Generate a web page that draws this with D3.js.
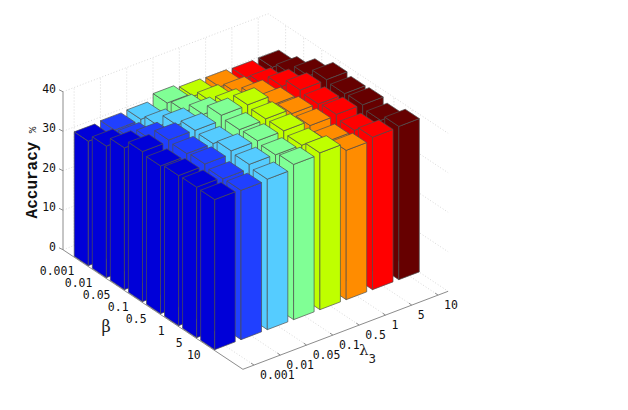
<!DOCTYPE html>
<html><head><meta charset="utf-8">
<script src="https://cdn.jsdelivr.net/npm/d3@7"></script>
<style>html,body{margin:0;background:#fff}svg{display:block}</style></head>
<body><div id="c"></div>
<script>
const betaLabels=["0.001","0.01","0.05","0.1","0.5","1","5","10"];
const lambdaLabels=["0.001","0.01","0.05","0.1","0.5","1","5","10"];
const zTicks=[0,10,20,30,40];
const colors=["#0000d8","#2040ff","#55ccff","#80ff95","#bfff00","#ff8c00","#ff0000","#660000"];
// rows: one per lambda3, values by beta
const acc1=[31.5,33.3,35.9,38.0,37.4,38.0,38.1,38.0];
const acc2=[31.8,32.4,35.5,38.4,38.0,38.4,37.7,37.8];
const acc3=[32.0,33.3,36.6,38.3,38.0,39.2,38.8,38.1];
const acc4=[33.6,34.5,36.8,39.6,39.0,39.2,38.7,39.3];
const acc5=[32.8,34.4,36.4,39.7,39.2,39.2,38.6,39.7];
const acc6=[32.6,33.9,36.1,37.3,38.0,38.0,37.1,37.8];
const acc7=[32.4,33.6,36.3,38.4,37.9,38.3,37.3,38.6];
const acc8=[32.5,33.9,36.4,38.5,38.0,38.2,37.3,38.8];
const series=[acc1,acc2,acc3,acc4,acc5,acc6,acc7,acc8];

const W=628,H=410;
const svg=d3.select("#c").append("svg").attr("width",W).attr("height",H);
const bX=d3.scaleLinear().domain([1,8]).range([0,126.4]);
const bY=d3.scaleLinear().domain([1,8]).range([0,84]);
const lX=d3.scaleLinear().domain([0.577,8.38]).range([80.4,285.6]);
const lY=d3.scaleLinear().domain([0.577,8.38]).range([261.3,183.3]);
const zS=d3.scaleLinear().domain([0,40]).range([0,158]);
const P=(b,l,z)=>[lX(l)+bX(b),lY(l)+bY(b)-zS(z)];
const line=d3.line();
const bMin=0.037,bMax=10,lMin=0.577,lMax=8.38,hw=0.39;
const gridStyle=s=>s.attr("fill","none").attr("stroke","#cfcfcf").attr("stroke-width",0.8).attr("stroke-dasharray","1,2");
const seg=(pts)=>gridStyle(svg.append("path").attr("d",line(pts)));
zTicks.forEach(z=>{seg([P(bMin,lMin,z),P(bMin,lMax,z),P(bMax,lMax,z)]);});
lambdaLabels.forEach((t,i)=>{const l=i+1;seg([P(bMin,l,0),P(bMin,l,40)]);seg([P(bMin,l,0),P(bMax,l,0)]);});
betaLabels.forEach((t,i)=>{const b=i+1;seg([P(b,lMax,0),P(b,lMax,40)]);seg([P(b,lMin,0),P(b,lMax,0)]);});
const axisStyle=s=>s.attr("fill","none").attr("stroke","#8c8c8c").attr("stroke-width",1);
axisStyle(svg.append("path").attr("d",line([P(bMin,lMin,40),P(bMin,lMin,0),P(bMax,lMin,0),P(bMax,lMax,0)])));
zTicks.forEach(z=>{const p=P(bMin,lMin,z);
  axisStyle(svg.append("path").attr("d",line([p,[p[0]-4,p[1]-2]])));});
betaLabels.forEach((t,i)=>{const p=P(i+1,lMin,0);
  axisStyle(svg.append("path").attr("d",line([p,[p[0]+3.5,p[1]-1.4]])));});
lambdaLabels.forEach((t,i)=>{const p=P(bMax,i+1,0);
  axisStyle(svg.append("path").attr("d",line([p,[p[0]-3,p[1]-2]])));});
const poly=(pts,c)=>svg.append("path").attr("d",line(pts)+"Z").attr("fill",c).attr("stroke","#4f4f4f").attr("stroke-width",0.7).attr("stroke-linejoin","round");
for(let bi=0;bi<8;bi++){for(let li=7;li>=0;li--){
  const b=bi+1,l=li+1,z=series[li][bi],c=colors[li];
  poly([P(b-hw,l-hw,0),P(b+hw,l-hw,0),P(b+hw,l-hw,z),P(b-hw,l-hw,z)],c);
  poly([P(b+hw,l-hw,0),P(b+hw,l+hw,0),P(b+hw,l+hw,z),P(b+hw,l-hw,z)],c);
  poly([P(b-hw,l-hw,z),P(b+hw,l-hw,z),P(b+hw,l+hw,z),P(b-hw,l+hw,z)],c);
}}
const F="'DejaVu Sans Mono',monospace";
const txt=(x,y,s,a)=>svg.append("text").attr("x",x).attr("y",y).attr("text-anchor",a).attr("dominant-baseline","middle").attr("font-family",F).attr("font-size",11.5).attr("fill","#111").text(s);
zTicks.forEach(z=>{const p=P(bMin,lMin,z);txt(56,p[1]-2.5,z,"end");});
betaLabels.forEach((t,i)=>{const p=P(i+1,lMin,0);txt(p[0]-6,p[1]+10,t,"end");});
lambdaLabels.forEach((t,i)=>{const p=P(bMax,i+1,0);txt(p[0]+6,p[1]+10,t,"start");});
svg.append("text").attr("transform","translate(37,180) rotate(-90)").attr("text-anchor","middle").attr("font-family","'Liberation Mono',monospace").attr("font-weight","bold").attr("font-size",16).attr("fill","#111").text("Accuracy");
svg.append("text").attr("transform","translate(36,130) rotate(-90)").attr("text-anchor","middle").attr("font-family","'Liberation Mono',monospace").attr("font-size",11).attr("fill","#222").text("%");
svg.append("text").attr("x",106).attr("y",332).attr("text-anchor","middle").attr("font-family","'DejaVu Serif',serif").attr("font-size",16).attr("fill","#222").text("β");
const lam=svg.append("text").attr("x",359).attr("y",355).attr("font-family","'DejaVu Serif',serif").attr("font-size",15).attr("fill","#222");
lam.append("tspan").text("λ");
lam.append("tspan").attr("dy",8).attr("font-family",F).attr("font-size",12.5).text("3");
</script></body></html>
